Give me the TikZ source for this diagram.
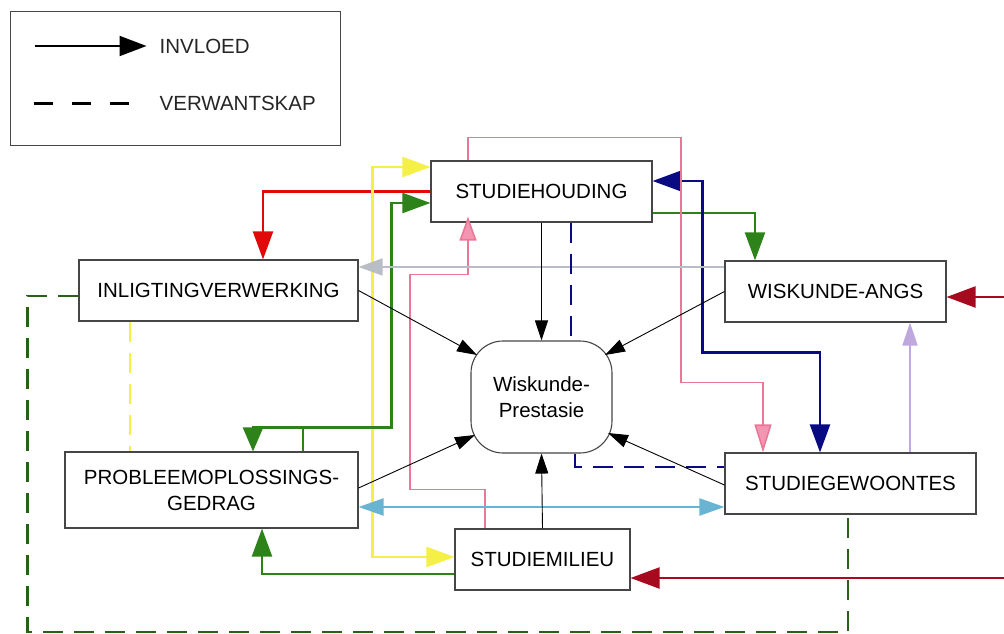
\documentclass[tikz,border=0pt]{standalone}
\usepackage{fontspec}
\setmainfont{Liberation Sans}
\usetikzlibrary{arrows.meta,calc}

\definecolor{cRed}{RGB}{225,10,10}
\definecolor{cYellow}{RGB}{245,240,70}
\definecolor{cGreen}{RGB}{45,130,25}
\definecolor{cNavy}{RGB}{10,10,130}
\definecolor{cPink}{RGB}{232,120,150}
\definecolor{cPinkTip}{RGB}{242,150,180}
\definecolor{cGrey}{RGB}{185,190,198}
\definecolor{cCyan}{RGB}{105,180,210}
\definecolor{cLav}{RGB}{190,168,222}
\definecolor{cDarkRed}{RGB}{165,10,30}
\definecolor{cDkGreen}{RGB}{40,95,25}
\definecolor{cBorder}{RGB}{70,70,70}

\tikzset{
  box/.style={draw=cBorder, line width=1.1pt, fill=white, inner sep=0pt,
    font=\fontsize{20.5}{26}\selectfont, align=center},
  hub/.style={box, rounded corners=32pt},
  bigtip/.tip={Triangle[length=28pt,width=20pt]},
  midtip/.tip={Triangle[length=24pt,width=17pt]},
  tipc/.style={-bigtip},
  tipcc/.style={bigtip-bigtip},
  link/.style={line width=2.2pt},
  thin link/.style={line width=1.6pt},
  infl/.style={black, line width=0.9pt, -{Triangle[length=20pt,width=13pt]}},
  kin/.style={line width=2.4pt, dash pattern=on 20pt off 11pt},
  legtxt/.style={anchor=west, inner sep=0pt, font=\fontsize{20.5}{26}\selectfont, text=black!85}
}

\begin{document}
\begin{tikzpicture}[x=1pt,y=-1pt]
\useasboundingbox (0,0) rectangle (1004,634);

% legend
\node[draw=cBorder, line width=1pt, minimum width=330pt, minimum height=133pt, inner sep=0pt] (leg) at (175,78.5) {};
\node[legtxt] (lInfl) at ($(leg.west)+(150,-32.5)$) {INVLOED};
\node[legtxt] (lKin) at ($(leg.west)+(150,24.5)$) {VERWANTSKAP};
\draw[black, line width=2pt, -{Triangle[length=27pt,width=20pt]}] ($(leg.west)+(25,-32.5)$) -- ($(lInfl.west)+(-13,0)$);
\draw[black, line width=3pt, dash pattern=on 19pt off 19pt] ($(leg.west)+(24,24.5)$) -- ($(lKin.west)+(-30,0)$);

% factors
\node[box, minimum width=221pt, minimum height=61pt] (sh) at (541.5,191.5) {STUDIEHOUDING};
\node[box, minimum width=279pt, minimum height=61pt] (iv) at (218.5,290.5) {INLIGTINGVERWERKING};
\node[box, minimum width=221pt, minimum height=61pt] (wa) at (835.5,291.5) {WISKUNDE-ANGS};
\node[box, minimum width=293pt, minimum height=76pt] (pg) at (211.5,490) {PROBLEEMOPLOSSINGS-\\GEDRAG};
\node[box, minimum width=251pt, minimum height=61pt] (sg) at (850.5,483.5) {STUDIEGEWOONTES};
\node[box, minimum width=175pt, minimum height=61pt] (sm) at (542.5,559.5) {STUDIEMILIEU};
\node[hub, minimum width=141pt, minimum height=112pt] (wp) at (541.5,397) {Wiskunde-\\Prestasie};

% free ends at the right margin
\coordinate (eA) at (1004,297);
\coordinate (eB) at (1004,578);

% coloured links
\draw[link, cRed, tipc] (sh.west) -| ($(iv.north)+(44.5,0)$);
\draw[link, cYellow, tipcc] ($(sh.west)+(0,-24.5)$) -- ++(-58,0) |- ($(sm.west)+(0,-2.5)$);
\draw[link, cGreen, {bigtip}-{Triangle[length=24pt,width=20pt]}] ($(sh.west)+(0,11.5)$) -- ++(-39,0) |- ($(pg.north)+(41.5,-24)$) -- ($(pg.north)+(41.5,0)$);
\draw[link, cGreen] ($(pg.north)+(91.5,0)$) -- ++(0,-24);
\draw[link, cGreen, tipc] ($(sm.west)+(0,14.5)$) -| ($(pg.south)+(50.5,0)$);
\draw[link, cGreen, tipc] ($(sh.east)+(0,21.5)$) -| ($(wa.north)+(-80.5,0)$);
\draw[link, cNavy, tipcc] ($(sh.east)+(0,-10.5)$) -- ++(50,0) |- ($(sg.north)+(-30.5,-100)$) -- ($(sg.north)+(-30.5,0)$);
\draw[thin link, cPink, -{midtip[fill=cPinkTip]}] ($(sm.north)+(-57.5,0)$) -- ++(0,-39) -- ++(-75,0) -- ++(0,-215) -| ($(sh.south)+(-73.5,-6)$);
\draw[thin link, cPink, -{bigtip[fill=cPinkTip,width=17pt]}] ($(sh.north)+(-73.5,0)$) -- ++(0,-23) -- ++(213,0) -- ++(0,245) -| ($(sg.north)+(-87.5,0)$);
\draw[thin link, cGrey, -midtip] ($(wa.west)+(0,-24.5)$) -- ($(iv.east)+(0,-23.5)$);
\draw[link, cCyan, {Triangle[length=25pt,width=17pt]}-{Triangle[length=25pt,width=17pt]}] ($(pg.east)+(0,17)$) -- ($(sg.west)+(0,23.5)$);
\draw[thin link, cLav, -{Triangle[length=23pt,width=15pt]}] ($(sg.north)+(59.5,0)$) -- ($(wa.south)+(74.5,0)$);
\draw[link, cDarkRed, -{Triangle[length=29pt,width=21pt]}] (eA) -- ($(wa.east)+(0,5.5)$);
\draw[link, cDarkRed, -{Triangle[length=29pt,width=21pt]}] (eB) -- ($(sm.east)+(0,18.5)$);

% dashed relations
\draw[kin, cNavy] ($(sh.south)+(29.5,0)$) -- ($(wp.north)+(29.5,0)$);
\draw[kin, cNavy] ($(wp.south)+(33.5,0)$) |- ($(sg.west)+(0,-16.5)$);
\draw[kin, cYellow] ($(iv.south)+(-88.5,0)$) -- ($(pg.north)+(-81.5,0)$);
\draw[kin, cDkGreen] ($(iv.west)+(0,5.5)$) -- ++(-51,0) -- ++(0,336) -| ($(sg.south)+(-2.5,0)$);

% influences on achievement
\draw[infl] (sh.south) -- (wp.north);
\draw[infl] (iv.east) -- ($(wp.center)+(-64.5,-42)$);
\draw[infl] (wa.west) -- ($(wp.center)+(63.5,-42)$);
\draw[infl] ($(pg.east)+(0,-2)$) -- ($(wp.center)+(-66.5,38)$);
\draw[infl] ($(sg.west)+(0,1.5)$) -- ($(wp.center)+(66.5,36)$);
\draw[infl] (sm.north) -- (wp.south);
\end{tikzpicture}
\end{document}
